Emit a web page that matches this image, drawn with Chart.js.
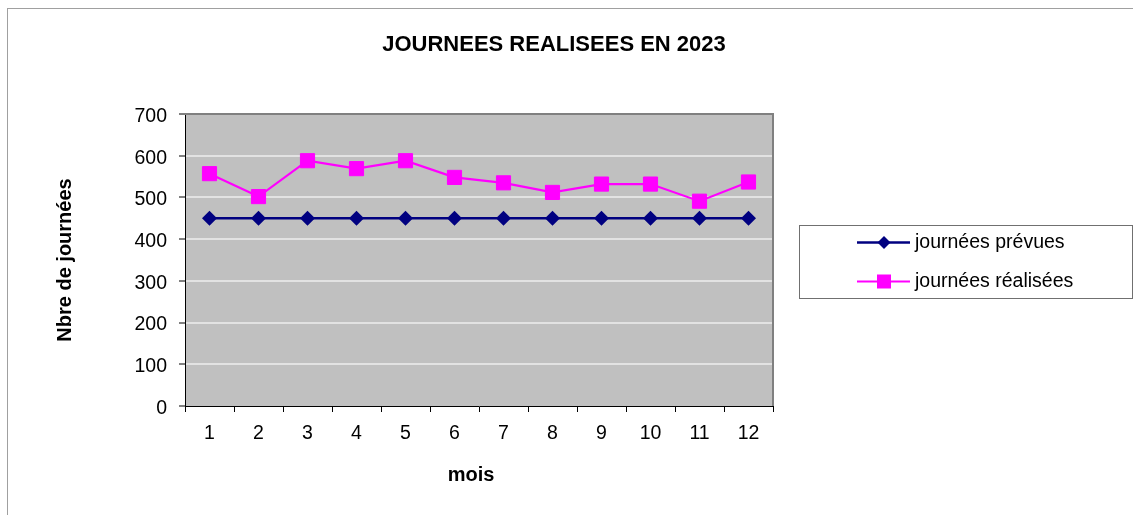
<!DOCTYPE html>
<html>
<head>
<meta charset="utf-8">
<script src="https://cdn.jsdelivr.net/npm/chart.js@4.4.0/dist/chart.umd.min.js"></script>
<style>
  html, body { margin: 0; padding: 0; background: #ffffff; }
  #wrap { width: 1133px; height: 515px; position: relative; }
</style>
</head>
<body>
<div id="wrap"><canvas id="c" width="1133" height="515"></canvas></div>
<script>
const chartTitle = 'JOURNEES REALISEES EN 2023';
const xAxisTitle = 'mois';
const yAxisTitle = 'Nbre de journées';
const months = ['1', '2', '3', '4', '5', '6', '7', '8', '9', '10', '11', '12'];
const prevuesLabel = 'journées prévues';
const realiseesLabel = 'journées réalisées';
const journeesPrevues = [450, 450, 450, 450, 450, 450, 450, 450, 450, 450, 450, 450];
const journeesRealisees = [557, 502, 588, 569, 588, 548, 535, 512, 532, 532, 491, 537];
const yMin = 0, yMax = 700, yStep = 100;

const FONT = "Arial, 'Liberation Sans', sans-serif";

const decorPlugin = {
  id: 'decor',
  beforeDraw(chart) {
    const ctx = chart.ctx, a = chart.chartArea;
    ctx.save();
    ctx.fillStyle = '#ffffff';
    ctx.fillRect(0, 0, chart.width, chart.height);
    // outer frame
    ctx.strokeStyle = '#a0a0a0';
    ctx.lineWidth = 1;
    ctx.strokeRect(7.5, 8.5, 2000, 2000);
    // plot background
    ctx.fillStyle = '#c0c0c0';
    ctx.fillRect(a.left, a.top, a.right - a.left, a.bottom - a.top);
    ctx.restore();
  },
  beforeDatasetsDraw(chart) {
    const ctx = chart.ctx, a = chart.chartArea;
    ctx.save();
    ctx.strokeStyle = '#808080';
    ctx.lineWidth = 2;
    ctx.beginPath();
    ctx.moveTo(a.left, a.top);
    ctx.lineTo(a.right, a.top);
    ctx.lineTo(a.right, a.bottom);
    ctx.stroke();
    ctx.restore();
  },
  afterDraw(chart) {
    const ctx = chart.ctx;
    ctx.save();
    // title
    ctx.fillStyle = '#000';
    ctx.font = "bold 22px " + FONT;
    ctx.textAlign = 'center';
    ctx.textBaseline = 'middle';
    ctx.fillText(chartTitle, 554, 45);
    // x axis title
    ctx.font = "bold 20px " + FONT;
    ctx.fillText(xAxisTitle, 471, 475);
    // legend box
    ctx.strokeStyle = '#707070';
    ctx.lineWidth = 1;
    ctx.strokeRect(799.5, 225.5, 333, 73);
    const rows = [242.5, 281.5];
    chart.data.datasets.forEach((ds, i) => {
      const y = rows[i];
      ctx.strokeStyle = ds.borderColor;
      ctx.lineWidth = ds.borderWidth;
      ctx.beginPath();
      ctx.moveTo(857, y);
      ctx.lineTo(910, y);
      ctx.stroke();
      ctx.fillStyle = ds.pointBackgroundColor;
      if (ds.pointStyle === 'rectRot') {
        ctx.beginPath();
        ctx.moveTo(884, y - 6.5);
        ctx.lineTo(890.5, y);
        ctx.lineTo(884, y + 6.5);
        ctx.lineTo(877.5, y);
        ctx.closePath();
        ctx.fill();
      } else {
        ctx.fillRect(877, y - 7, 14, 14);
      }
      ctx.fillStyle = '#000';
      ctx.font = "19.5px " + FONT;
      ctx.textAlign = 'left';
      ctx.textBaseline = 'middle';
      ctx.fillText(ds.label, 915, y);
    });
    ctx.restore();
  }
};

new Chart(document.getElementById('c'), {
  type: 'line',
  data: {
    labels: months,
    datasets: [
      {
        label: prevuesLabel,
        data: journeesPrevues,
        borderColor: '#000080',
        backgroundColor: '#000080',
        pointBackgroundColor: '#000080',
        pointBorderColor: '#000080',
        borderWidth: 2.5,
        pointStyle: 'rectRot',
        pointRadius: 7.5,
        pointBorderWidth: 0,
        tension: 0
      },
      {
        label: realiseesLabel,
        data: journeesRealisees,
        borderColor: '#ff00ff',
        backgroundColor: '#ff00ff',
        pointBackgroundColor: '#ff00ff',
        pointBorderColor: '#ff00ff',
        borderWidth: 2.2,
        pointStyle: 'rect',
        pointRadius: 10,
        pointBorderWidth: 1,
        tension: 0
      }
    ]
  },
  options: {
    responsive: false,
    animation: false,
    devicePixelRatio: 1,
    layout: { padding: { left: 0, right: 360, top: 114, bottom: 0 } },
    plugins: {
      legend: { display: false },
      title: { display: false },
      tooltip: { enabled: false }
    },
    scales: {
      x: {
        type: 'category',
        offset: true,
        afterFit(scale) { scale.height = 109; },
        grid: {
          offset: true,
          drawOnChartArea: false,
          tickLength: 6,
          tickColor: '#000',
          tickWidth: 1
        },
        border: { color: '#000', width: 1 },
        ticks: {
          color: '#000',
          font: { family: FONT, size: 19.5 },
          padding: 10,
          maxRotation: 0,
          autoSkip: false
        },
        title: { display: false }
      },
      y: {
        min: yMin,
        max: yMax,
        afterFit(scale) { scale.width = 185; },
        grid: {
          color: (c) => (c.tick && (c.tick.value === yMax || c.tick.value === yMin)) ? 'rgba(0,0,0,0)' : '#e2e2e2',
          lineWidth: 2,
          tickLength: 6,
          tickColor: '#000',
          tickWidth: 1
        },
        border: { color: '#000', width: 1 },
        ticks: {
          stepSize: yStep,
          color: '#000',
          font: { family: FONT, size: 19.5 },
          padding: 12,
          labelOffset: 2.5
        },
        title: {
          display: true,
          text: yAxisTitle,
          color: '#000',
          font: { family: FONT, size: 20, weight: 'bold' },
          padding: { top: 53, bottom: 0 }
        }
      }
    }
  },
  plugins: [decorPlugin]
});
</script>
</body>
</html>
